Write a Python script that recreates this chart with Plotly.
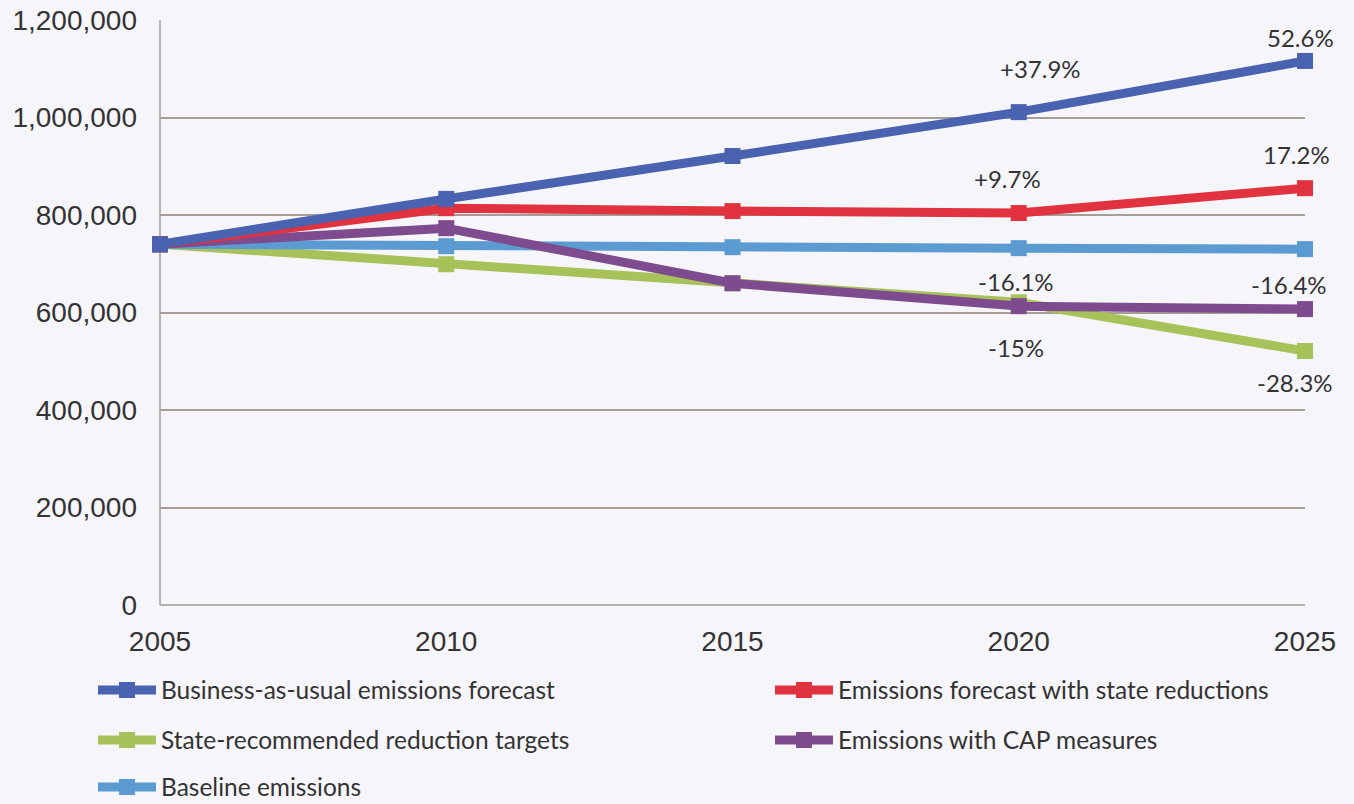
import plotly.graph_objects as go

years = [2005, 2010, 2015, 2020, 2025]
bau = [740000, 833000, 921000, 1011000, 1116000]
state_red = [740000, 814000, 808000, 804000, 855000]
state_targets = [740000, 699000, 660000, 621000, 521000]
cap = [740000, 773000, 660000, 613000, 607000]
baseline = [740000, 736000, 734000, 732000, 730000]

names = ["Business-as-usual emissions forecast",
         "Emissions forecast with state reductions",
         "State-recommended reduction targets",
         "Emissions with CAP measures",
         "Baseline emissions"]
series = [bau, state_red, state_targets, cap, baseline]
colors = ["#4a63b0", "#e0323f", "#a8c25a", "#7d4b8e", "#5b9bd2"]
legends = ["legend", "legend2", "legend3", "legend4", "legend5"]

order = [2, 4, 3, 1, 0]

fig = go.Figure()
traces = {}
for i in range(5):
    traces[i] = go.Scatter(
        x=years, y=series[i], name=names[i], mode="lines+markers",
        line=dict(color=colors[i], width=9),
        marker=dict(symbol="square", size=16, color=colors[i]),
        cliponaxis=False, legend=legends[i],
    )
for i in order:
    fig.add_trace(traces[i])

labels = [
    (2020, bau[3], "+37.9%", 22, 44),
    (2025, bau[4], "52.6%", -5, 23),
    (2020, state_red[3], "+9.7%", -11, 35),
    (2025, state_red[4], "17.2%", -9, 34),
    (2020, cap[3], "-16.1%", -3, 25),
    (2025, cap[4], "-16.4%", -16, 25),
    (2020, state_targets[3], "-15%", -3, -45),
    (2025, state_targets[4], "-28.3%", -10, -31),
]
for x, y, t, dx, dy in labels:
    fig.add_annotation(x=x, y=y, text=t, showarrow=False, xshift=dx, yshift=dy,
                       font=dict(family="Lato, Open Sans, sans-serif", size=24, color="#333333"))

bg = "#f6f5f9"
grid = "#a59d96"
legfont = dict(family="Lato, Open Sans, sans-serif", size=24.5, color="#333333")
common_leg = dict(orientation="h", xanchor="left", yanchor="middle", font=legfont,
                  bgcolor="rgba(0,0,0,0)", itemwidth=58)

col1 = (93 - 160) / 1145
col2 = (770 - 160) / 1145
row1 = (605 - 690) / 585
row2 = (605 - 740) / 585
row3 = (605 - 787) / 585

fig.update_layout(
    width=1354, height=804,
    margin=dict(l=160, r=49, t=20, b=199, autoexpand=False),
    paper_bgcolor=bg, plot_bgcolor=bg,
    font=dict(family="Liberation Sans, Arial, sans-serif", color="#333333"),
    xaxis=dict(range=[2005, 2025], tickvals=years, showgrid=False, zeroline=False,
               showline=False, tickfont=dict(size=28, color="#333333"),
               ticklabelstandoff=17, fixedrange=True),
    yaxis=dict(range=[0, 1200000], tickvals=[0, 200000, 400000, 600000, 800000, 1000000, 1200000],
               tickformat=",d", showgrid=True, gridcolor=grid, gridwidth=1.5,
               zeroline=False, showline=False, tickfont=dict(size=28, color="#333333"),
               ticklabelstandoff=22),
    legend=dict(x=col1, y=row1, **common_leg),
    legend2=dict(x=col2, y=row1, **common_leg),
    legend3=dict(x=col1, y=row2, **common_leg),
    legend4=dict(x=col2, y=row2, **common_leg),
    legend5=dict(x=col1, y=row3, **common_leg),
    showlegend=True,
)
fig.add_shape(type="line", xref="paper", yref="paper", x0=0, x1=0, y0=0, y1=1,
              line=dict(color=grid, width=1.5), layer="below")
fig.add_shape(type="line", xref="paper", yref="paper", x0=0, x1=1, y0=0, y1=0,
              line=dict(color=grid, width=1.5), layer="below")

fig.write_html("out.html", config={"displayModeBar": False},
               post_script="document.body.style.margin='0';document.body.style.background='" + bg + "';")
